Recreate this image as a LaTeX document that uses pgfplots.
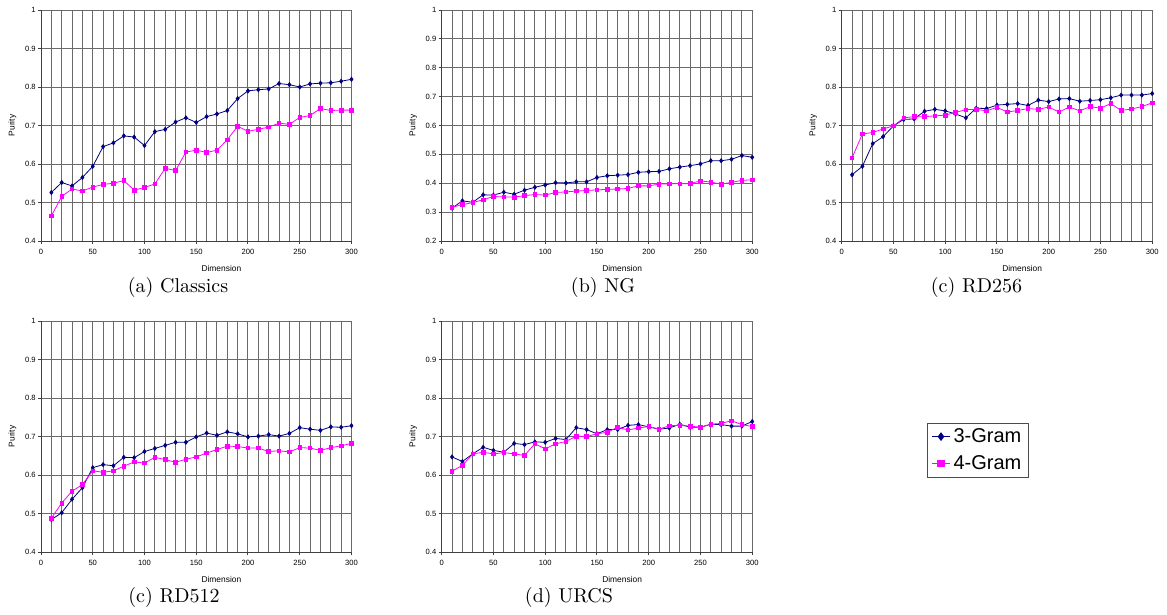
\documentclass[border=0pt]{standalone}
\usepackage{fontspec}
\usepackage{pgfplots}
\pgfplotsset{compat=1.18}
\newfontfamily\arial{Liberation Sans}
\definecolor{navy}{HTML}{000080}
\definecolor{mag}{HTML}{FF00FF}
\definecolor{gridc}{HTML}{6A6A6A}

\pgfplotsset{
  purity/.style={
    scale only axis, width=155.25pt, height=115.5pt,
    anchor=south west, clip=false,
    xmin=0, xmax=300, ymax=1,
    axis x line*=bottom, axis y line*=left,
    axis line style={black!75, line width=0.5pt},
    xtick={0,50,...,300}, minor xtick={10,20,...,290},
    xmajorgrids, xminorgrids, ymajorgrids,
    grid style={gridc, line width=0.5pt},
    minor grid style={gridc, line width=0.5pt},
    tick align=outside, major tick length=1.5pt, minor tick length=0pt,
    tick style={black!75, line width=0.5pt},
    /pgf/number format/assume math mode=true,
    tick label style={font=\arial\fontsize{3.8}{4.5}\selectfont},
    xticklabel style={inner sep=0pt, yshift=-2.5pt},
    yticklabel style={inner sep=0pt, xshift=-1pt},
    xlabel={Dimension},
    xlabel style={font=\arial\fontsize{4.2}{5}\selectfont, at={(axis description cs:0.581,-0.117)}, anchor=center},
    ylabel={Purity},
    ylabel style={font=\arial\fontsize{4.2}{5}\selectfont, at={(axis description cs:-0.0918,0.5)}, anchor=center},
  },
  tri/.style={navy, line width=0.4pt, mark=diamond*, mark size=1pt, mark options={solid, fill=navy}},
  four/.style={mag, line width=0.4pt, mark=square*, mark size=0.9pt, mark options={solid, fill=mag}},
}

\begin{document}
\begin{tikzpicture}
\useasboundingbox (0,0) rectangle (583.5pt,-307.5pt);

% (a) Classics
\begin{axis}[purity, at={(20.5pt,-120.5pt)}, ymin=0.4, ytick={0.4,0.5,0.6,0.7,0.8,0.9,1}]
\addplot[tri] coordinates {(10,0.526)(20,0.552)(30,0.543)(40,0.565)(50,0.594)(60,0.645)(70,0.655)(80,0.673)(90,0.670)(100,0.648)(110,0.684)(120,0.690)(130,0.709)(140,0.720)(150,0.708)(160,0.723)(170,0.730)(180,0.739)(190,0.770)(200,0.790)(210,0.793)(220,0.795)(230,0.809)(240,0.806)(250,0.800)(260,0.808)(270,0.810)(280,0.811)(290,0.815)(300,0.820)};
\addplot[four] coordinates {(10,0.465)(20,0.516)(30,0.535)(40,0.530)(50,0.540)(60,0.547)(70,0.550)(80,0.557)(90,0.532)(100,0.539)(110,0.548)(120,0.589)(130,0.583)(140,0.631)(150,0.636)(160,0.630)(170,0.636)(180,0.663)(190,0.698)(200,0.685)(210,0.690)(220,0.696)(230,0.706)(240,0.703)(250,0.721)(260,0.726)(270,0.744)(280,0.739)(290,0.740)(300,0.740)};
\end{axis}

% (b) NG
\begin{axis}[purity, at={(220.85pt,-120.5pt)}, ymin=0.2, ytick={0.2,0.3,0.4,0.5,0.6,0.7,0.8,0.9,1}]
\addplot[tri] coordinates {(10,0.314)(20,0.339)(30,0.334)(40,0.360)(50,0.359)(60,0.369)(70,0.362)(80,0.376)(90,0.386)(100,0.394)(110,0.402)(120,0.401)(130,0.405)(140,0.405)(150,0.420)(160,0.426)(170,0.428)(180,0.430)(190,0.438)(200,0.440)(210,0.441)(220,0.450)(230,0.456)(240,0.461)(250,0.467)(260,0.478)(270,0.478)(280,0.483)(290,0.496)(300,0.490)};
\addplot[four] coordinates {(10,0.317)(20,0.326)(30,0.333)(40,0.343)(50,0.354)(60,0.353)(70,0.352)(80,0.357)(90,0.361)(100,0.359)(110,0.368)(120,0.370)(130,0.373)(140,0.375)(150,0.377)(160,0.379)(170,0.380)(180,0.382)(190,0.391)(200,0.391)(210,0.397)(220,0.398)(230,0.398)(240,0.399)(250,0.408)(260,0.404)(270,0.397)(280,0.403)(290,0.410)(300,0.412)};
\end{axis}

% (c) RD256
\begin{axis}[purity, at={(420.85pt,-120.5pt)}, ymin=0.4, ytick={0.4,0.5,0.6,0.7,0.8,0.9,1}]
\addplot[tri] coordinates {(10,0.572)(20,0.594)(30,0.653)(40,0.671)(50,0.699)(60,0.716)(70,0.717)(80,0.737)(90,0.742)(100,0.738)(110,0.730)(120,0.720)(130,0.745)(140,0.744)(150,0.753)(160,0.755)(170,0.757)(180,0.752)(190,0.766)(200,0.762)(210,0.769)(220,0.770)(230,0.763)(240,0.765)(250,0.767)(260,0.772)(270,0.779)(280,0.779)(290,0.779)(300,0.783)};
\addplot[four] coordinates {(10,0.616)(20,0.678)(30,0.682)(40,0.691)(50,0.699)(60,0.720)(70,0.723)(80,0.723)(90,0.725)(100,0.727)(110,0.734)(120,0.741)(130,0.742)(140,0.738)(150,0.747)(160,0.735)(170,0.739)(180,0.744)(190,0.742)(200,0.748)(210,0.735)(220,0.748)(230,0.738)(240,0.749)(250,0.745)(260,0.757)(270,0.739)(280,0.743)(290,0.749)(300,0.759)};
\end{axis}

% (c) RD512
\begin{axis}[purity, at={(20.5pt,-276pt)}, ymin=0.4, ytick={0.4,0.5,0.6,0.7,0.8,0.9,1}]
\addplot[tri] coordinates {(10,0.484)(20,0.502)(30,0.537)(40,0.567)(50,0.619)(60,0.627)(70,0.624)(80,0.646)(90,0.645)(100,0.661)(110,0.669)(120,0.677)(130,0.685)(140,0.685)(150,0.699)(160,0.709)(170,0.703)(180,0.712)(190,0.707)(200,0.699)(210,0.701)(220,0.705)(230,0.701)(240,0.708)(250,0.723)(260,0.719)(270,0.716)(280,0.725)(290,0.724)(300,0.728)};
\addplot[four] coordinates {(10,0.488)(20,0.527)(30,0.558)(40,0.575)(50,0.611)(60,0.607)(70,0.611)(80,0.623)(90,0.634)(100,0.631)(110,0.646)(120,0.640)(130,0.633)(140,0.641)(150,0.647)(160,0.657)(170,0.666)(180,0.675)(190,0.674)(200,0.670)(210,0.670)(220,0.661)(230,0.663)(240,0.660)(250,0.671)(260,0.670)(270,0.664)(280,0.671)(290,0.676)(300,0.682)};
\end{axis}

% (d) URCS
\begin{axis}[purity, at={(220.85pt,-276pt)}, ymin=0.4, ytick={0.4,0.5,0.6,0.7,0.8,0.9,1},
  legend style={at={(axis description cs:1.563,0.56)}, anchor=north west,
    draw=black!70, line width=0.5pt, fill=white,
    font=\arial\fontsize{10}{12}\selectfont, inner xsep=2pt, inner ysep=1pt,
    nodes={inner sep=1.5pt}, row sep=2pt},
  legend cell align=left,
  legend image code/.code={\draw[mark repeat=2,mark phase=2,#1] plot coordinates {(0pt,0pt) (4.5pt,0pt) (9pt,0pt)};}]
\addplot[tri, forget plot] coordinates {(10,0.647)(20,0.635)(30,0.655)(40,0.672)(50,0.664)(60,0.659)(70,0.682)(80,0.679)(90,0.686)(100,0.685)(110,0.695)(120,0.692)(130,0.723)(140,0.718)(150,0.707)(160,0.718)(170,0.718)(180,0.729)(190,0.731)(200,0.725)(210,0.719)(220,0.722)(230,0.732)(240,0.724)(250,0.724)(260,0.732)(270,0.731)(280,0.727)(290,0.727)(300,0.739)};
\addplot[four, forget plot] coordinates {(10,0.610)(20,0.625)(30,0.655)(40,0.659)(50,0.655)(60,0.658)(70,0.655)(80,0.651)(90,0.681)(100,0.668)(110,0.681)(120,0.687)(130,0.701)(140,0.700)(150,0.707)(160,0.711)(170,0.724)(180,0.717)(190,0.722)(200,0.726)(210,0.719)(220,0.728)(230,0.729)(240,0.727)(250,0.724)(260,0.732)(270,0.734)(280,0.741)(290,0.731)(300,0.726)};
\addlegendimage{navy, line width=0.5pt, mark=diamond*, mark size=1.8pt, mark options={solid, fill=navy}}
\addlegendentry{3-Gram}
\addlegendimage{mag, line width=0.5pt, mark=square*, mark size=1.6pt, mark options={solid, fill=mag}}
\addlegendentry{4-Gram}
\end{axis}

\node[anchor=base, inner sep=0pt, font=\fontsize{10}{12}\selectfont] at (89pt,-146pt) {(a) Classics};
\node[anchor=base, inner sep=0pt, font=\fontsize{10}{12}\selectfont] at (301.5pt,-146pt) {(b) NG};
\node[anchor=base, inner sep=0pt, font=\fontsize{10}{12}\selectfont] at (488.25pt,-146pt) {(c) RD256};
\node[anchor=base, inner sep=0pt, font=\fontsize{10}{12}\selectfont] at (87pt,-301pt) {(c) RD512};
\node[anchor=base, inner sep=0pt, font=\fontsize{10}{12}\selectfont] at (284.5pt,-301pt) {(d) URCS};
\end{tikzpicture}
\end{document}
